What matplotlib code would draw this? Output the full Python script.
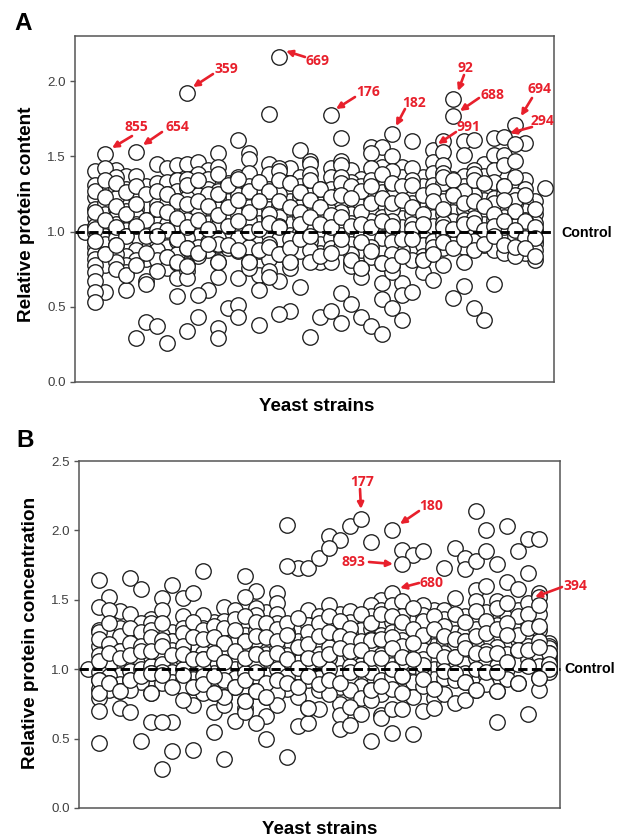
import matplotlib
matplotlib.use('Agg')
from matplotlib import pyplot as plt

plt.rcParams['font.family'] = ['Liberation Sans', 'DejaVu Sans']

# values per strain column, later entries are drawn on top
content = [
    [1.00],
    [1.40, 1.31, 1.23, 1.15, 1.09, 1.04, 0.99, 0.94, 0.90, 0.86, 0.82, 0.78, 0.73, 0.67, 0.60, 0.53],
    [1.515, 1.42, 1.27, 1.19, 1.12, 1.06, 1.02, 0.97, 0.92, 0.85, 0.78, 0.60],
    [1.41, 1.36, 1.29, 1.22, 1.15, 1.10, 1.05, 1.00, 0.96, 0.91, 0.85, 0.80, 0.75],
    [1.37, 1.28, 1.21, 1.14, 1.10, 1.06, 1.01, 0.97, 0.90, 0.84, 0.78, 0.73, 0.61],
    [1.53, 1.37, 1.22, 1.15, 1.11, 1.05, 1.00, 0.95, 0.88, 0.81, 0.29],
    [1.30, 1.21, 1.16, 1.08, 1.03, 0.94, 0.90, 0.82, 0.67, 0.65, 0.40],
    [1.45, 1.32, 1.23, 1.18, 1.13, 1.05, 0.97, 0.93, 0.88, 0.81, 0.74, 0.37],
    [1.42, 1.33, 1.25, 1.19, 1.10, 1.05, 0.99, 0.90, 0.83, 0.76, 0.26],
    [1.44, 1.34, 1.27, 1.20, 1.13, 1.07, 1.00, 0.94, 0.85, 0.79, 0.69, 0.57],
    [1.45, 1.92, 1.35, 1.29, 1.22, 1.15, 1.08, 1.00, 0.96, 0.89, 0.78, 0.74, 0.69, 0.34],
    [1.46, 1.38, 1.31, 1.24, 1.17, 1.12, 1.04, 0.97, 0.90, 0.84, 0.58, 0.43],
    [1.41, 1.35, 1.28, 1.21, 1.14, 1.06, 1.00, 0.93, 0.88, 0.61],
    [1.52, 1.43, 1.38, 1.27, 1.22, 1.15, 1.08, 1.04, 0.96, 0.91, 0.80, 0.70, 0.36, 0.29],
    [1.32, 1.26, 1.20, 1.14, 1.07, 1.01, 0.95, 0.89, 0.49],
    [1.61, 1.36, 1.29, 1.24, 1.17, 1.11, 1.03, 0.96, 0.87, 0.69, 0.51, 0.43],
    [1.52, 1.48, 1.39, 1.30, 1.24, 1.16, 1.08, 1.00, 0.90, 0.80, 0.76],
    [1.33, 1.25, 1.18, 1.12, 1.06, 0.99, 0.93, 0.87, 0.71, 0.61, 0.38],
    [1.78, 1.45, 1.38, 1.28, 1.22, 1.15, 1.09, 1.03, 0.98, 0.92, 0.82, 0.74, 0.70],
    [2.16, 1.42, 1.40, 1.30, 1.25, 1.17, 1.10, 1.04, 0.95, 0.85, 0.67, 0.45],
    [1.42, 1.32, 1.28, 1.20, 1.13, 1.05, 0.98, 0.89, 0.80, 0.76, 0.47],
    [1.54, 1.36, 1.30, 1.23, 1.16, 1.10, 1.00, 0.92, 0.87, 0.63],
    [1.47, 1.45, 1.38, 1.30, 1.24, 1.16, 1.08, 1.02, 0.94, 0.88, 0.80, 0.30],
    [1.28, 1.24, 1.18, 1.12, 1.04, 0.98, 0.92, 0.86, 0.80, 0.43],
    [1.775, 1.42, 1.36, 1.28, 1.21, 1.14, 1.08, 1.02, 0.96, 0.89, 0.80, 0.47],
    [1.62, 1.47, 1.44, 1.36, 1.27, 1.20, 1.13, 1.05, 0.98, 0.90, 0.59, 0.39],
    [1.41, 1.33, 1.25, 1.19, 1.12, 1.06, 1.00, 0.92, 0.85, 0.80, 0.77, 0.52],
    [1.35, 1.30, 1.24, 1.17, 1.09, 1.03, 0.97, 0.88, 0.76, 0.70, 0.43],
    [1.56, 1.52, 1.42, 1.34, 1.22, 1.14, 1.07, 0.99, 0.90, 0.83, 0.37],
    [1.56, 1.43, 1.35, 1.26, 1.18, 1.10, 1.04, 0.96, 0.79, 0.66, 0.55, 0.32],
    [1.65, 1.50, 1.40, 1.31, 1.23, 1.15, 1.07, 1.00, 0.93, 0.85, 0.77, 0.73, 0.49],
    [1.43, 1.36, 1.24, 1.17, 1.09, 1.03, 0.94, 0.88, 0.66, 0.58, 0.41],
    [1.60, 1.42, 1.34, 1.27, 1.19, 1.12, 1.05, 0.97, 0.81, 0.60],
    [1.36, 1.30, 1.21, 1.15, 1.07, 1.01, 0.91, 0.84, 0.81, 0.73],
    [1.54, 1.46, 1.39, 1.31, 1.24, 1.16, 1.10, 1.04, 0.94, 0.88, 0.68],
    [1.60, 1.53, 1.44, 1.39, 1.32, 1.20, 1.12, 1.06, 0.98, 0.89, 0.78],
    [1.88, 1.765, 1.35, 1.28, 1.20, 1.13, 1.07, 1.01, 0.92, 0.56],
    [1.60, 1.51, 1.37, 1.30, 1.23, 1.15, 1.08, 1.00, 0.90, 0.80, 0.64],
    [1.61, 1.41, 1.38, 1.30, 1.24, 1.17, 1.09, 1.02, 0.94, 0.49],
    [1.45, 1.37, 1.28, 1.21, 1.13, 1.05, 0.98, 0.91, 0.41],
    [1.62, 1.51, 1.41, 1.33, 1.22, 1.16, 1.08, 1.01, 0.94, 0.88, 0.65],
    [1.63, 1.51, 1.44, 1.30, 1.25, 1.17, 1.10, 1.03, 0.90, 0.86],
    [1.71, 1.58, 1.47, 1.36, 1.24, 1.18, 1.11, 1.04, 0.97, 0.84],
    [1.59, 1.34, 1.28, 1.20, 1.14, 1.08, 1.00, 0.93, 0.86],
    [1.20, 1.12, 1.06, 1.01, 0.94, 0.92, 0.88, 0.81],
    [1.29],
]

# front layer of the same columns, read where single circles show in the band
content_front = [
    [],
    [1.27, 1.13, 1.02, 0.94],
    [1.34, 1.23, 1.08, 0.85],
    [1.32, 1.17, 1.03, 0.91],
    [1.26, 1.12, 0.97, 0.71],
    [1.30, 1.18, 1.04, 0.78],
    [1.25, 1.08, 0.97, 0.86],
    [1.27, 1.15, 1.01, 0.97],
    [1.25, 1.13, 1.01, 0.83],
    [1.20, 1.09, 0.95, 0.80],
    [1.31, 1.18, 1.03, 0.89, 0.77],
    [1.34, 1.20, 1.08, 0.86],
    [1.25, 1.17, 1.02, 0.92],
    [1.25, 1.11, 0.92, 0.80],
    [1.31, 1.16, 1.04, 0.91],
    [1.35, 1.21, 1.07, 0.88],
    [1.27, 1.13, 1.00, 0.80],
    [1.33, 1.20, 1.02, 0.88],
    [1.27, 1.12, 1.06, 0.90],
    [1.34, 1.20, 1.03, 0.85],
    [1.32, 1.16, 0.95, 0.89, 0.80],
    [1.26, 1.13, 1.05, 0.95],
    [1.34, 1.21, 1.10, 0.97],
    [1.28, 1.16, 1.05, 0.84],
    [1.23, 1.11, 1.03, 0.86],
    [1.32, 1.24, 1.10, 0.95],
    [1.30, 1.22, 1.04, 0.81],
    [1.27, 1.13, 1.05, 0.93, 0.76],
    [1.30, 1.19, 1.03, 0.87],
    [1.38, 1.22, 1.07, 0.79],
    [1.32, 1.19, 1.04, 0.78],
    [1.30, 1.21, 0.95, 0.84],
    [1.31, 1.16, 1.02, 0.95],
    [1.24, 1.12, 1.05, 0.81],
    [1.27, 1.20, 0.90, 0.85],
    [1.36, 1.15, 1.03, 0.93],
    [1.34, 1.24, 1.02, 0.89],
    [1.27, 1.19, 1.05, 0.95],
    [1.34, 1.20, 1.06, 0.88],
    [1.32, 1.17, 1.01, 0.92],
    [1.19, 1.12, 1.04, 0.97],
    [1.30, 1.21, 1.07, 0.91],
    [1.21, 1.14, 1.01, 0.90],
    [1.24, 1.07, 0.96, 0.89],
    [1.15, 1.03, 0.96, 0.84],
    [],
]

concentration = [
    [1.00],
    [1.64, 1.45, 1.28, 1.27, 1.17, 1.10, 0.98, 0.92, 0.86, 0.79, 0.70, 0.47],
    [1.52, 1.43, 1.24, 1.15, 1.08, 1.02, 0.95, 0.90, 0.85],
    [1.42, 1.30, 1.17, 1.08, 1.01, 0.96, 0.89, 0.84, 0.72],
    [1.66, 1.40, 1.23, 1.14, 1.06, 0.99, 0.92, 0.85, 0.69],
    [1.58, 1.33, 1.22, 1.13, 1.05, 1.00, 0.91, 0.48],
    [1.36, 1.33, 1.23, 1.16, 1.09, 1.02, 0.97, 0.83, 0.62],
    [1.51, 1.43, 1.25, 1.17, 1.09, 1.04, 0.98, 0.90, 0.62, 0.28],
    [1.61, 1.27, 1.20, 1.10, 1.03, 0.98, 0.91, 0.62, 0.41],
    [1.51, 1.38, 1.30, 1.23, 1.15, 1.07, 1.00, 0.92, 0.87, 0.78],
    [1.55, 1.28, 1.20, 1.14, 1.07, 1.00, 0.93, 0.87, 0.74, 0.42],
    [1.71, 1.39, 1.30, 1.22, 1.12, 1.07, 1.01, 0.95, 0.83],
    [1.34, 1.27, 1.16, 1.09, 1.03, 0.97, 0.91, 0.83, 0.69, 0.55],
    [1.45, 1.35, 1.26, 1.19, 1.12, 1.05, 0.99, 0.92, 0.80, 0.74, 0.35],
    [1.43, 1.31, 1.24, 1.18, 1.08, 1.00, 0.94, 0.87, 0.63],
    [1.67, 1.52, 1.33, 1.25, 1.20, 1.12, 1.04, 0.97, 0.77, 0.72, 0.69],
    [1.56, 1.44, 1.39, 1.28, 1.21, 1.11, 1.03, 0.95, 0.84, 0.61],
    [1.41, 1.28, 1.19, 1.11, 1.04, 0.96, 0.86, 0.80, 0.66, 0.50],
    [1.55, 1.48, 1.40, 1.33, 1.26, 1.15, 1.08, 1.00, 0.92, 0.83, 0.74],
    [2.04, 1.74, 1.27, 1.25, 1.18, 1.10, 1.03, 0.95, 0.86, 0.37],
    [1.73, 1.28, 1.20, 1.12, 1.05, 0.98, 0.87, 0.80, 0.59],
    [1.73, 1.43, 1.32, 1.22, 1.14, 1.08, 1.00, 0.92, 0.72, 0.61],
    [1.80, 1.38, 1.28, 1.20, 1.11, 1.03, 0.94, 0.85, 0.71],
    [1.96, 1.87, 1.46, 1.32, 1.24, 1.16, 1.08, 1.00, 0.92, 0.82],
    [1.93, 1.40, 1.30, 1.20, 1.13, 1.06, 0.97, 0.87, 0.75, 0.67, 0.57],
    [2.03, 1.42, 1.34, 1.26, 1.19, 1.10, 1.02, 0.94, 0.85, 0.73, 0.60],
    [2.08, 1.36, 1.28, 1.17, 1.09, 1.03, 0.96, 0.88, 0.79, 0.68],
    [1.92, 1.46, 1.38, 1.29, 1.22, 1.13, 1.05, 0.98, 0.85, 0.78, 0.48],
    [1.50, 1.43, 1.32, 1.25, 1.17, 1.10, 1.02, 0.92, 0.82, 0.67, 0.65],
    [2.00, 1.55, 1.46, 1.34, 1.27, 1.18, 1.10, 1.03, 0.95, 0.86, 0.71, 0.54],
    [1.86, 1.76, 1.49, 1.38, 1.30, 1.21, 1.14, 1.05, 0.95, 0.83, 0.71],
    [1.82, 1.36, 1.26, 1.18, 1.10, 1.02, 0.91, 0.80, 0.53],
    [1.85, 1.46, 1.39, 1.30, 1.22, 1.14, 1.07, 0.98, 0.88, 0.70],
    [1.43, 1.34, 1.25, 1.17, 1.09, 1.00, 0.93, 0.86, 0.79, 0.72],
    [1.73, 1.43, 1.36, 1.28, 1.20, 1.12, 1.04, 0.94, 0.82],
    [1.87, 1.51, 1.33, 1.26, 1.18, 1.09, 1.01, 0.92, 0.76],
    [1.80, 1.72, 1.38, 1.27, 1.20, 1.11, 1.04, 0.97, 0.91, 0.78],
    [2.14, 1.78, 1.57, 1.49, 1.37, 1.29, 1.18, 1.08, 1.00, 0.85],
    [2.00, 1.85, 1.60, 1.41, 1.30, 1.21, 1.13, 1.06, 0.95, 0.89],
    [1.76, 1.49, 1.42, 1.32, 1.24, 1.16, 1.08, 1.02, 0.84, 0.62],
    [2.03, 1.63, 1.37, 1.27, 1.19, 1.11, 1.00, 0.93],
    [1.85, 1.58, 1.43, 1.30, 1.21, 1.13, 1.04, 0.90],
    [1.94, 1.69, 1.48, 1.33, 1.27, 1.17, 1.07, 0.68],
    [1.94, 1.55, 1.52, 1.40, 1.28, 1.20, 1.10, 1.02, 0.94, 0.85],
    [1.19, 1.17, 1.15, 1.12, 1.10, 1.07, 1.05, 1.02, 0.99, 0.98],
]

concentration_front = [
    [],
    [1.22, 1.06, 0.92, 0.83],
    [1.33, 1.18, 1.12, 0.90],
    [1.24, 1.13, 1.08, 0.84],
    [1.30, 1.19, 1.10, 0.92],
    [1.27, 1.17, 1.13, 0.95],
    [1.28, 1.23, 1.13, 0.97, 0.83],
    [1.33, 1.21, 1.17, 0.96],
    [1.20, 1.14, 1.10, 0.87],
    [1.26, 1.17, 1.11, 0.96],
    [1.34, 1.23, 1.07, 0.87],
    [1.28, 1.22, 1.07, 0.89],
    [1.31, 1.23, 1.12, 0.95, 0.83],
    [1.30, 1.19, 1.05, 0.80],
    [1.36, 1.28, 1.13, 0.87],
    [1.38, 1.20, 1.08, 0.92, 0.77],
    [1.34, 1.24, 1.11, 0.98, 0.84],
    [1.33, 1.23, 1.08, 0.90, 0.80],
    [1.29, 1.20, 1.12, 0.92],
    [1.33, 1.25, 1.07, 0.90],
    [1.37, 1.16, 1.01, 0.87],
    [1.27, 1.18, 1.08, 0.95, 0.72],
    [1.33, 1.24, 1.07, 0.89],
    [1.38, 1.27, 1.11, 0.92],
    [1.35, 1.24, 1.15, 0.90],
    [1.30, 1.22, 1.13, 0.98],
    [1.40, 1.20, 1.14, 1.00],
    [1.33, 1.21, 1.08, 0.85],
    [1.40, 1.22, 1.08, 0.88],
    [1.38, 1.23, 1.15, 1.00],
    [1.34, 1.17, 1.09, 0.95],
    [1.44, 1.29, 1.19, 1.07],
    [1.35, 1.25, 1.03, 0.93],
    [1.38, 1.29, 1.14, 0.86],
    [1.31, 1.24, 1.09, 0.99],
    [1.40, 1.22, 1.09, 0.97],
    [1.34, 1.20, 1.15, 0.91],
    [1.42, 1.24, 1.12, 0.85],
    [1.35, 1.26, 1.11, 0.98],
    [1.44, 1.29, 1.12, 0.98, 0.84],
    [1.48, 1.33, 1.25, 1.05],
    [1.38, 1.25, 1.14, 0.90],
    [1.40, 1.30, 1.14, 1.02],
    [1.46, 1.31, 1.16, 0.94],
    [1.12, 1.04, 1.00],
]

content_labels = ['855', '654', '359', '669', '176', '182', '92', '688', '991', '694', '294']
content_text_px = [(136, 127), (177, 127), (226, 69), (318, 61), (368, 92), (414, 103),
                   (465, 68), (493, 95), (468, 127), (540, 89), (542, 121)]
content_tail_px = [(132, 136), (162, 132), (213, 74), (305, 57), (355, 97), (405, 109),
                   (464, 75), (479, 98), (456, 132), (532, 98), (532, 127)]
content_tip_px = [(112, 148), (143, 145), (193, 87), (286, 51), (336, 109), (396, 126),
                  (458, 91), (460, 111), (438, 144), (521, 116), (510, 133)]

conc_labels = ['177', '180', '893', '680', '394']
conc_text_px = [(362, 482), (431, 506), (353, 562), (432, 583), (575, 586)]
conc_tail_px = [(360, 489), (419, 511), (369, 562), (419, 583), (562, 587)]
conc_tip_px = [(361, 509), (400, 524), (393, 564), (400, 588), (535, 597)]

W, H = 625, 839


def fig_xy(p):
    return p[0] / W, 1 - p[1] / H


def draw_rounds(ax, columns):
    longest = max(len(c) for c in columns)
    # draw in rounds so the stacks overlap across columns, not just left to right
    for k in range(longest):
        xs = [i for i, c in enumerate(columns) if k < len(c)]
        ys = [c[k] for c in columns if k < len(c)]
        ax.scatter(xs, ys, s=124, facecolor='white', edgecolor='#1c1c1c', linewidth=0.95, zorder=3)


def draw_panel(box, columns, front, ymax, yticks, x0, x1):
    ax = fig.add_axes([box[0] / W, 1 - box[3] / H, (box[2] - box[0]) / W, (box[3] - box[1]) / H])
    draw_rounds(ax, columns)
    draw_rounds(ax, front)
    ax.set_xlim(x0, x1)
    ax.set_ylim(0, ymax)
    ax.set_xticks([])
    ax.set_yticks(yticks)
    ax.set_yticklabels(['%.1f' % t for t in yticks], fontsize=9.6, color='#404040')
    ax.tick_params(axis='y', length=3.5, width=1, color='#555555', pad=3)
    for s in ax.spines.values():
        s.set_color('#555555')
        s.set_linewidth(1.1)
    ax.plot([x0, x1], [1, 1], color='black', lw=2.1, dashes=(3.2, 1.5), zorder=5, clip_on=False)
    return ax


def add_arrows(labels, text_px, tail_px, tip_px):
    for lab, t, a, b in zip(labels, text_px, tail_px, tip_px):
        fig.text(t[0] / W, 1 - t[1] / H, lab, color='#e8202c', fontsize=10, fontweight='bold',
                 family='Open Sans', ha='center', va='center')
        fig.add_artist(matplotlib.patches.FancyArrowPatch(
            fig_xy(a), fig_xy(b), transform=fig.transFigure, arrowstyle='-|>', mutation_scale=9,
            color='#e8202c', lw=1.9, shrinkA=0, shrinkB=0))


fig = plt.figure(figsize=(W / 100, H / 100), dpi=100)

draw_panel((75, 36, 554, 382), content, content_front, 2.3, [0.0, 0.5, 1.0, 1.5, 2.0], -0.98, 45.84)
draw_panel((79, 461, 560, 808), concentration, concentration_front, 2.5, [0.0, 0.5, 1.0, 1.5, 2.0, 2.5], -0.89, 45.05)

add_arrows(content_labels, content_text_px, content_tail_px, content_tip_px)
add_arrows(conc_labels, conc_text_px, conc_tail_px, conc_tip_px)

fig.text(14 / W, 1 - 30 / H, 'A', fontsize=17.5, fontweight='bold', ha='left', va='baseline')
fig.text(16 / W, 1 - 447 / H, 'B', fontsize=17.5, fontweight='bold', ha='left', va='baseline')
fig.text(27 / W, 1 - 214 / H, 'Relative protein content', rotation=90, fontsize=13.6,
         fontweight='bold', ha='center', va='center')
fig.text(31 / W, 1 - 633 / H, 'Relative protein concentration', rotation=90, fontsize=13.6,
         fontweight='bold', ha='center', va='center')
fig.text(317 / W, 1 - 406 / H, 'Yeast strains', fontsize=13.5, fontweight='bold', ha='center', va='center')
fig.text(320 / W, 1 - 829 / H, 'Yeast strains', fontsize=13.5, fontweight='bold', ha='center', va='center')
fig.text(561 / W, 1 - 233 / H, 'Control', fontsize=10.3, fontweight='bold', ha='left', va='center')
fig.text(564 / W, 1 - 669 / H, 'Control', fontsize=10.3, fontweight='bold', ha='left', va='center')

fig.savefig('out.png', dpi=100)
